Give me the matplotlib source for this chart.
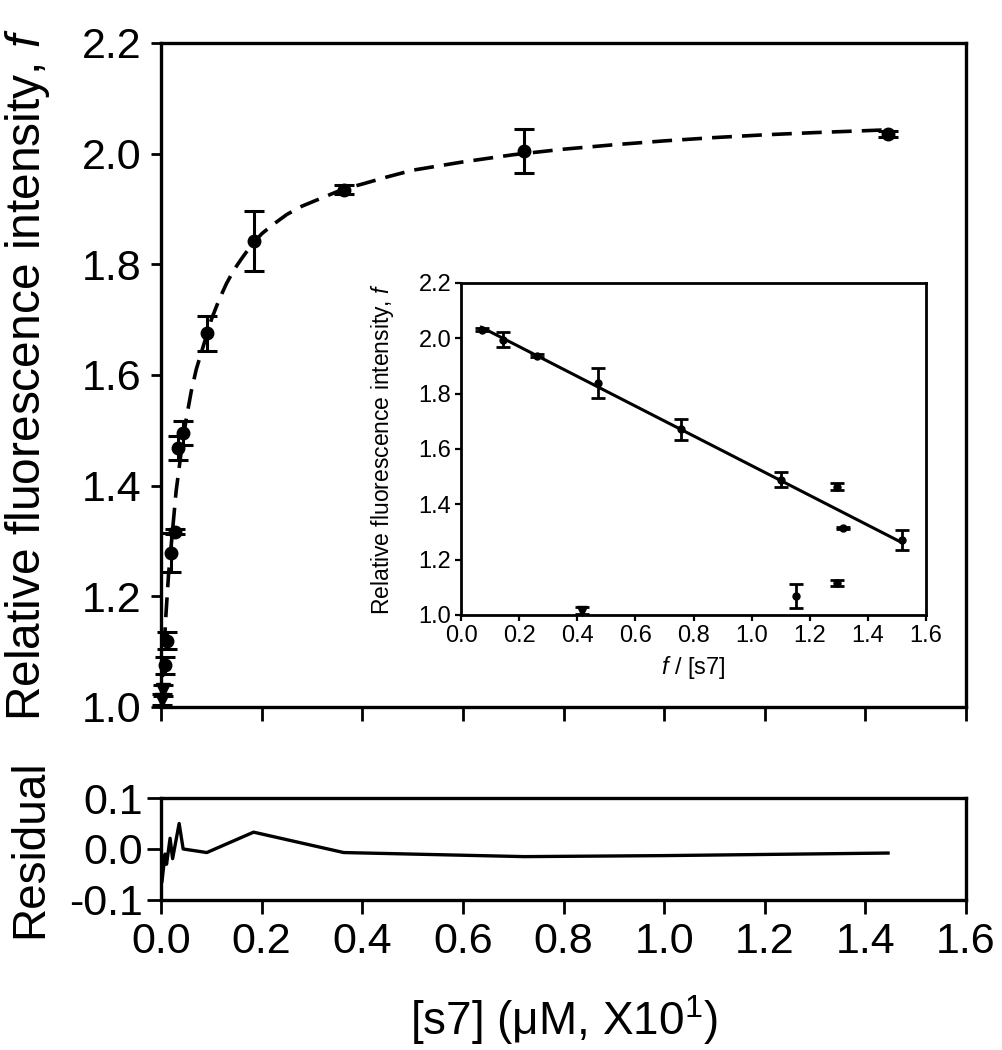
import numpy as np
import matplotlib
matplotlib.use("Agg")
import matplotlib.pyplot as plt

plt.rcParams['font.family'] = ['Liberation Sans', 'DejaVu Sans']
plt.rcParams['axes.unicode_minus'] = False
plt.rcParams['mathtext.fontset'] = 'custom'
plt.rcParams['mathtext.it'] = 'Liberation Sans:italic'
plt.rcParams['mathtext.rm'] = 'Liberation Sans'

# main titration data, [s7] (uM x10) vs relative fluorescence f
s7 = [0.002, 0.004, 0.007, 0.012, 0.020, 0.028, 0.034, 0.044, 0.091, 0.184, 0.363, 0.722, 1.445]
f_obs = [1.013, 1.03, 1.075, 1.12, 1.279, 1.317, 1.468, 1.495, 1.675, 1.842, 1.935, 2.005, 2.035]
f_err = [0.01, 0.01, 0.015, 0.015, 0.035, 0.005, 0.022, 0.022, 0.032, 0.055, 0.008, 0.04, 0.005]
tri = [True, True] + [False] * 11

# fit curve
fit_x = [0, 0.002, 0.005, 0.01, 0.015, 0.02, 0.025, 0.03, 0.04, 0.05, 0.06, 0.07, 0.08,
         0.09, 0.1, 0.115, 0.13, 0.145, 0.16, 0.18, 0.2, 0.22, 0.25, 0.28, 0.32, 0.36,
         0.4, 0.45, 0.5, 0.6, 0.7, 0.8, 0.9, 1.0, 1.1, 1.2, 1.3, 1.445]
fit_y = [1.0, 1.04, 1.09, 1.17, 1.24, 1.29, 1.34, 1.39, 1.46, 1.52, 1.57, 1.61, 1.64,
         1.67, 1.70, 1.735, 1.765, 1.79, 1.81, 1.835, 1.855, 1.87, 1.89, 1.905, 1.92, 1.935,
         1.945, 1.958, 1.97, 1.985, 1.998, 2.008, 2.016, 2.023, 2.029, 2.034, 2.038, 2.043]

# residuals
res_x = [0.002, 0.008, 0.011, 0.018, 0.023, 0.036, 0.044, 0.091, 0.184, 0.363, 0.722, 1.0, 1.445]
res_y = [-0.063, -0.01, -0.03, 0.021, -0.019, 0.050, 0.0, -0.007, 0.033, -0.007, -0.015, -0.013, -0.008]

# inset Scatchard-type plot
ins_x = [0.073, 0.145, 0.26, 0.471, 0.758, 1.101, 1.293, 1.315, 1.517, 1.293, 1.154, 0.415]
ins_y = [2.031, 1.995, 1.937, 1.838, 1.672, 1.488, 1.464, 1.314, 1.271, 1.115, 1.069, 1.016]
ins_err = [0.005, 0.027, 0.006, 0.054, 0.038, 0.027, 0.014, 0.004, 0.036, 0.012, 0.044, 0.012]
ins_tri = [False] * 11 + [True]
line_x = [0.07, 1.52]
line_y = [2.04, 1.26]

fig = plt.figure(figsize=(10.02, 10.5), dpi=100)
ax = fig.add_axes([0.1607, 0.3267, 0.8034, 0.6324])
axr = fig.add_axes([0.1607, 0.1429, 0.8034, 0.0971])
axi = fig.add_axes([0.4601, 0.4143, 0.4641, 0.3162])

ax.plot(fit_x, fit_y, color='black', lw=2.6, ls=(0, (5.5, 2.8)))
for x, y, e, t in zip(s7, f_obs, f_err, tri):
    ax.errorbar(x, y, yerr=e, fmt='v' if t else 'o', color='black', ms=10 if t else 9,
                elinewidth=2.2, capsize=7, capthick=2.2, clip_on=False)
ax.set_xlim(0, 1.6)
ax.set_ylim(1.0, 2.2)
ax.set_yticks(np.arange(1.0, 2.21, 0.2))
ax.set_xticks(np.arange(0, 1.61, 0.2))
ax.set_xticklabels([])
ax.tick_params(axis='y', direction='out', length=7, width=2, labelsize=31, pad=7)
ax.tick_params(axis='x', direction='out', length=10, width=2)
ax.set_ylabel('Relative fluorescence intensity, $\\mathit{f}$', fontsize=34.5)
ax.yaxis.set_label_coords(-0.135, 0.5)
for s in ax.spines.values():
    s.set_linewidth(2.4)

axr.plot(res_x, res_y, color='black', lw=2.4)
axr.set_xlim(0, 1.6)
axr.set_ylim(-0.1, 0.1)
axr.set_yticks([-0.1, 0.0, 0.1])
axr.set_xticks(np.arange(0, 1.61, 0.2))
axr.tick_params(axis='both', direction='out', length=10, width=2, labelsize=31, pad=3)
axr.tick_params(axis='x', pad=6)
axr.set_ylabel('Residual', fontsize=33)
axr.yaxis.set_label_coords(-0.135, 0.5)
axr.set_xlabel('[s7] (\u03bcM, X10$^{1}$)', fontsize=33, labelpad=22)
for s in axr.spines.values():
    s.set_linewidth(2.4)

axi.plot(line_x, line_y, color='black', lw=2.2)
for x, y, e, t in zip(ins_x, ins_y, ins_err, ins_tri):
    axi.errorbar(x, y, yerr=e, fmt='v' if t else 'o', color='black', ms=7 if t else 5,
                 elinewidth=2, capsize=5, capthick=2, clip_on=False)
axi.set_xlim(0, 1.6)
axi.set_ylim(1.0, 2.2)
axi.set_xticks(np.arange(0, 1.61, 0.2))
axi.set_yticks(np.arange(1.0, 2.21, 0.2))
axi.tick_params(axis='both', direction='out', length=4, width=1.6, labelsize=17, pad=3)
axi.set_ylabel('Relative fluorescence intensity, $\\mathit{f}$', fontsize=16.5)
axi.yaxis.set_label_coords(-0.14, 0.5)
axi.set_xlabel('$\\mathit{f}$ / [s7]', fontsize=17, labelpad=5)
for s in axi.spines.values():
    s.set_linewidth(2)

fig.savefig('out.png', dpi=100)
